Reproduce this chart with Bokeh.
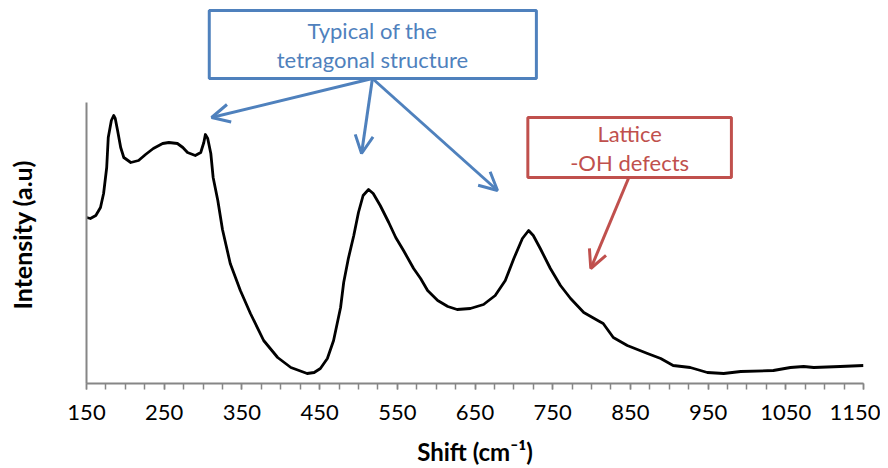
import math
from bokeh.plotting import figure
from bokeh.models import Range1d, FixedTicker, Arrow, OpenHead, Title
from bokeh.core.properties import value
from bokeh.embed import file_html
from bokeh.resources import INLINE

# Raman spectrum (shift in cm^-1, intensity in arbitrary units)
shift = [150, 155, 162, 168, 172, 176, 178, 182, 185, 187, 190, 194, 198, 207, 217, 226, 236,
         248, 256, 267, 274, 280, 290, 297, 301, 303, 306, 310, 313, 319, 325, 335, 348, 361,
         378, 396, 413, 434, 443, 451, 460, 468, 477, 481, 487, 494, 500, 506, 513, 519, 528,
         539, 548, 558, 571, 580, 589, 602, 615, 627, 644, 661, 676, 689, 700, 711, 719, 725,
         734, 747, 760, 773, 790, 808, 815, 828, 846, 872, 889, 905, 927, 949, 970, 992, 1034,
         1056, 1073, 1086, 1120, 1150]
intensity = [166, 165, 168, 176, 190, 216, 246, 263, 268, 265, 253, 236, 226, 221, 223, 229, 235,
             240, 241, 240, 236, 231, 228, 231, 241, 249, 245, 230, 206, 183, 154, 120, 93, 70,
             43, 26, 16, 10, 11, 15, 25, 43, 76, 101, 125, 148, 171, 188, 194, 190, 178,
             161, 146, 133, 115, 105, 93, 83, 77, 74, 75, 79, 88, 103, 125, 145, 153, 148,
             135, 115, 98, 85, 71, 63, 60, 46, 38, 30, 25, 18, 16, 11, 10, 12, 13,
             16, 17, 16, 17, 18]

major_ticks = [150, 250, 350, 450, 550, 650, 750, 850, 950, 1050, 1150]
minor_ticks = list(range(150, 1151, 25))

BLUE = "#4F81BD"
RED = "#C0504D"
GRAY = "#868686"
FONT = "Lato"

p = figure(width=880, height=468, output_backend="svg", toolbar_location=None,
           x_range=Range1d(150, 1150), y_range=Range1d(0, 375),
           min_border_left=86, min_border_right=17, min_border_top=8, min_border_bottom=85)
p.outline_line_color = None
p.xgrid.visible = False
p.ygrid.visible = False
p.background_fill_color = "white"
p.border_fill_color = "white"

p.line(shift, intensity, line_color="black", line_width=2.8, line_join="round")

# x axis
xa = p.xaxis[0]
xa.ticker = FixedTicker(ticks=major_ticks, minor_ticks=minor_ticks)
xa.axis_line_color = GRAY
xa.axis_line_width = 2
xa.major_tick_line_color = GRAY
xa.minor_tick_line_color = GRAY
xa.major_tick_line_width = 1.5
xa.minor_tick_line_width = 1.5
xa.major_tick_in = 0
xa.minor_tick_in = 0
xa.major_tick_out = 6
xa.minor_tick_out = 6
xa.major_label_text_font = FONT
xa.major_label_text_font_size = "22px"
xa.major_label_text_color = "black"
xa.major_label_standoff = 15
xa.axis_label = "Shift (cm\u207b\u00b9)"
xa.axis_label_text_font = FONT
xa.axis_label_text_font_style = "bold"
xa.axis_label_text_font_size = "24px"
xa.axis_label_text_color = "black"
xa.axis_label_standoff = 14

# y axis: line only (a blank label with standoff spaces the title outward)
ya = p.yaxis[0]
ya.ticker = FixedTicker(ticks=[])
ya.bounds = (0, 281)
ya.axis_line_color = GRAY
ya.axis_line_width = 2
ya.major_tick_line_color = None
ya.minor_tick_line_color = None
ya.major_label_text_font_size = "0px"
ya.axis_label = " "
ya.axis_label_text_font_size = "1px"
ya.axis_label_standoff = 40

# y axis title
p.add_layout(Title(text="Intensity (a.u)", align="left", offset=74, vertical_align="middle",
                   text_font=FONT, text_font_style="bold", text_font_size="25px",
                   text_color="black", standoff=10), "left")

# blue annotation
p.quad(left=[308], right=[729], bottom=[305], top=[373], fill_color="white",
       line_color=BLUE, line_width=3)
p.text(x=[518, 518], y=[353, 324], text=["Typical of the", "tetragonal structure"],
       text_align="center", text_baseline="middle", text_font=value(FONT),
       text_font_size="22px", text_color=BLUE)
for xe, ye in [(311, 266), (504, 230), (679, 193)]:
    p.add_layout(Arrow(end=OpenHead(size=18, line_color=BLUE, line_width=3),
                       x_start=518, y_start=305, x_end=xe, y_end=ye,
                       line_color=BLUE, line_width=3))

# red annotation
p.quad(left=[718], right=[980], bottom=[206], top=[266], fill_color="white",
       line_color=RED, line_width=3)
p.text(x=[849, 849], y=[250, 221], text=["Lattice", "-OH defects"],
       text_align="center", text_baseline="middle", text_font=value(FONT),
       text_font_size="22px", text_color=RED)
p.add_layout(Arrow(end=OpenHead(size=18, line_color=RED, line_width=3),
                   x_start=848, y_start=206, x_end=799, y_end=115,
                   line_color=RED, line_width=3))

open("out.html", "w").write(file_html(p, INLINE))
